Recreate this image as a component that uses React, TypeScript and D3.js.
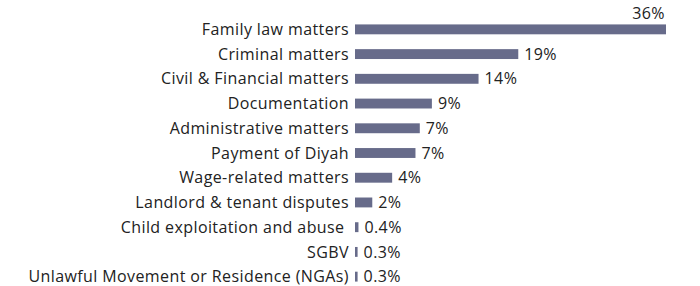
import React from "react";
import * as d3 from "d3";

const categories = [
  "Family law matters",
  "Criminal matters",
  "Civil & Financial matters",
  "Documentation",
  "Administrative matters",
  "Payment of Diyah",
  "Wage-related matters",
  "Landlord & tenant disputes",
  "Child exploitation and abuse ",
  "SGBV",
  "Unlawful Movement or Residence (NGAs)",
];
const values = [36, 18.9, 14.3, 8.9, 7.5, 7.0, 4.3, 2.0, 0.4, 0.3, 0.3];
const labels = ["36%", "19%", "14%", "9%", "7%", "7%", "4%", "2%", "0.4%", "0.3%", "0.3%"];

const W = 700;
const H = 286;
const left = 355;
const right = 666;
const top = 17;
const bottom = 289;
const FONT = "'Open Sans', sans-serif";

export default function App() {
  const x = d3.scaleLinear().domain([0, 36]).range([left, right]);
  const y = d3.scaleBand<string>().domain(categories).range([top, bottom]).paddingInner(0.6).paddingOuter(0.3);
  return (
    <svg width={W} height={H} style={{ position: "absolute", left: 0, top: 0 }}>
      {categories.map((c, i) => {
        const yc = (y(c) as number) + y.bandwidth() / 2;
        const xe = x(values[i]);
        const isMax = i === 0;
        return (
          <g key={c}>
            <text
              x={349}
              y={yc}
              dy="0.35em"
              textAnchor="end"
              fontFamily={FONT}
              fontSize={16}
              letterSpacing={0.4}
              fill="#222"
              style={{ whiteSpace: "pre" }}
            >
              {c}
            </text>
            <rect x={left} y={y(c)} width={xe - left} height={y.bandwidth()} fill="#676b8a" />
            <text
              x={isMax ? xe - 1 : xe + 6}
              y={isMax ? yc - 16 : yc}
              dy="0.35em"
              textAnchor={isMax ? "end" : "start"}
              fontFamily={FONT}
              fontSize={16}
              letterSpacing={0.4}
              fill="#222"
            >
              {labels[i]}
            </text>
          </g>
        );
      })}
    </svg>
  );
}
